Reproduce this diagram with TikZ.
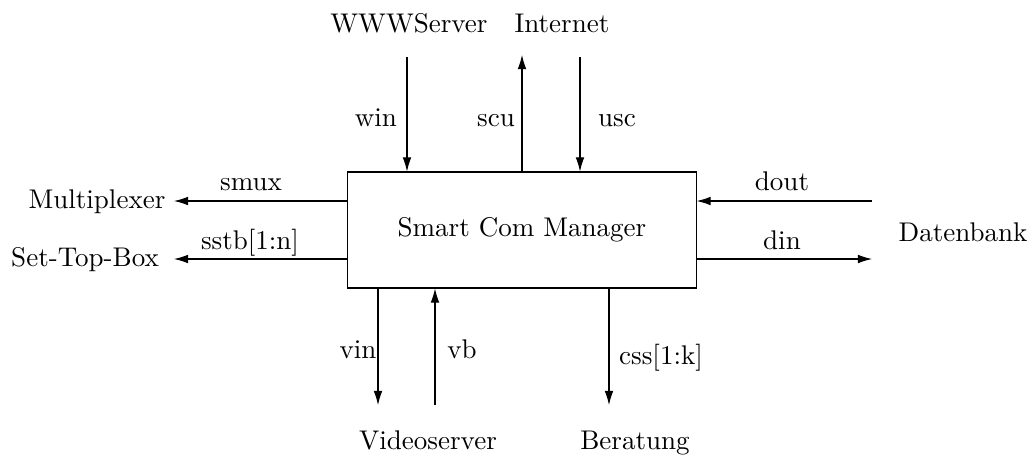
\documentclass[tikz,border=0pt]{standalone}
\usetikzlibrary{positioning,arrows.meta}

\begin{document}
\begin{tikzpicture}[x=0.37pt,y=-0.37pt,>={Latex[length=5.2pt,width=3.2pt]},
		sig/.style={->,line width=0.4pt},
		lbl/.style={inner sep=0pt,anchor=base}]
	\useasboundingbox (0,0) rectangle (1027,463);
	
	% central block
	\node[draw,line width=0.4pt,minimum width=128.8pt,minimum height=42.9pt,inner sep=0pt] (mgr) at (522,230) {Smart Com Manager};
	
	% external partners
	\node[lbl] (www) at (409,32) {WWWServer};
	\node[lbl] (inet) at (562,32) {Internet};
	\node[lbl] (mux) at (97,208) {Multiplexer};
	\node[lbl] (stb) at (85,266) {Set-Top-Box};
	\node[lbl] (db) at (963,241) {Datenbank};
	\node[lbl] (video) at (428,449) {Videoserver};
	\node[lbl] (ber) at (635,449) {Beratung};
	
	% free ends of the signals
	\coordinate (win0) at (407,57);
	\coordinate (scu0) at (522,55);
	\coordinate (usc0) at (580,57);
	\coordinate (smux0) at (174,201);
	\coordinate (sstb0) at (174,259);
	\coordinate (dout0) at (872,201);
	\coordinate (din0) at (872,259);
	\coordinate (vin0) at (378,405);
	\coordinate (vb0) at (435,405);
	\coordinate (css0) at (609,405);
	
	% top
	\draw[sig] (win0) -- (win0 |- mgr.north);
	\draw[sig] (scu0 |- mgr.north) -- (scu0);
	\draw[sig] (usc0) -- (usc0 |- mgr.north);
	\node[lbl] (winl) at (376,126) {win};
	\node[lbl] (scul) at (496,126) {scu};
	\node[lbl] (uscl) at (617,126) {usc};
	
	% left
	\draw[sig] (smux0 -| mgr.west) -- (smux0);
	\draw[sig] (sstb0 -| mgr.west) -- (sstb0);
	\node[lbl] (smuxl) at (251,190) {smux};
	\node[lbl] (sstbl) at (250,249) {sstb[1:n]};
	
	% right
	\draw[sig] (dout0) -- (dout0 -| mgr.east);
	\draw[sig] (din0 -| mgr.east) -- (din0);
	\node[lbl] (doutl) at (782,190) {dout};
	\node[lbl] (dinl) at (782,249) {din};
	
	% bottom
	\draw[sig] (vin0 |- mgr.south) -- (vin0);
	\draw[sig] (vb0) -- (vb0 |- mgr.south);
	\draw[sig] (css0 |- mgr.south) -- (css0);
	\node[lbl] (vinl) at (358,358) {vin};
	\node[lbl] (vbl) at (462,358) {vb};
	\node[lbl] (cssl) at (661,364) {css[1:k]};
\end{tikzpicture}
\end{document}
